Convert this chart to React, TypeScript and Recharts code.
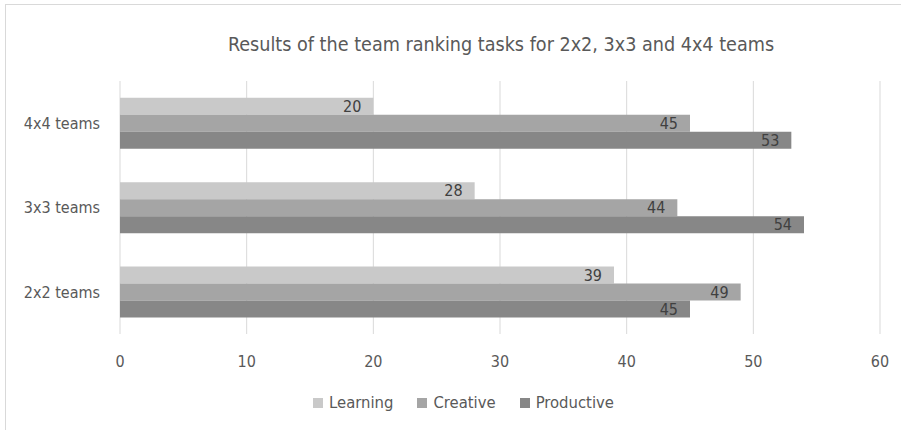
import { BarChart, Bar, XAxis, YAxis, CartesianGrid, LabelList } from "recharts";

// team sizes, top to bottom
const teams = ["4x4 teams", "3x3 teams", "2x2 teams"];
const learning = [20, 28, 39];
const creative = [45, 44, 49];
const productive = [53, 54, 45];
const xTicks = [0, 10, 20, 30, 40, 50, 60];

const series = [
  { key: "Learning", values: learning, color: "#c9c9c9" },
  { key: "Creative", values: creative, color: "#a5a5a5" },
  { key: "Productive", values: productive, color: "#878787" },
];

const data = teams.map((name, i) => ({
  name,
  Learning: learning[i],
  Creative: creative[i],
  Productive: productive[i],
}));

const FONT = "'DejaVu Sans Condensed', 'Liberation Sans Narrow', Lato, sans-serif";

export default function App() {
  return (
    <div
      style={{
        position: "absolute",
        left: 0,
        top: 0,
        width: 901,
        height: 430,
        overflow: "hidden",
        background: "#fff",
        fontFamily: FONT,
      }}
    >
      <div
        style={{
          position: "absolute",
          left: 5,
          top: 4,
          width: 1200,
          height: 1200,
          border: "1px solid #d9d9d9",
        }}
      />
      <div
        style={{
          position: "absolute",
          left: 0,
          width: 1002,
          top: 33,
          textAlign: "center",
          fontSize: 19.6,
          color: "#595959",
        }}
      >
        Results of the team ranking tasks for 2x2, 3x3 and 4x4 teams
      </div>
      <BarChart
        width={901}
        height={430}
        data={data}
        layout="vertical"
        margin={{ top: 81, right: 21, left: 0, bottom: 56 }}
        barGap={0}
        barCategoryGap="20%"
        style={{ position: "absolute", left: 0, top: 0 }}
      >
        <CartesianGrid horizontal={false} stroke="#d9d9d9" />
        <XAxis
          type="number"
          domain={[0, 60]}
          ticks={xTicks}
          axisLine={false}
          tickLine={false}
          height={40}
          tick={{ fill: "#595959", fontSize: 16, fontFamily: FONT }}
          tickMargin={16}
        />
        <YAxis
          type="category"
          dataKey="name"
          width={120}
          axisLine={false}
          tickLine={false}
          tick={{ fill: "#595959", fontSize: 16, fontFamily: FONT }}
          tickMargin={14}
        />
        {series.map((s) => (
          <Bar key={s.key} dataKey={s.key} fill={s.color} isAnimationActive={false}>
            <LabelList
              dataKey={s.key}
              position="insideRight"
              offset={12}
              fill="#404040"
              fontSize={16}
              fontFamily={FONT}
            />
          </Bar>
        ))}
      </BarChart>
      <div
        style={{
          position: "absolute",
          left: 0,
          width: 927,
          top: 393,
          display: "flex",
          justifyContent: "center",
          gap: 24,
          fontSize: 16.5,
          color: "#595959",
          lineHeight: "20px",
        }}
      >
        {series.map((s) => (
          <div key={s.key} style={{ display: "flex", alignItems: "center" }}>
            <span
              style={{
                display: "inline-block",
                width: 10,
                height: 10,
                background: s.color,
                marginRight: 6,
              }}
            />
            {s.key}
          </div>
        ))}
      </div>
    </div>
  );
}
